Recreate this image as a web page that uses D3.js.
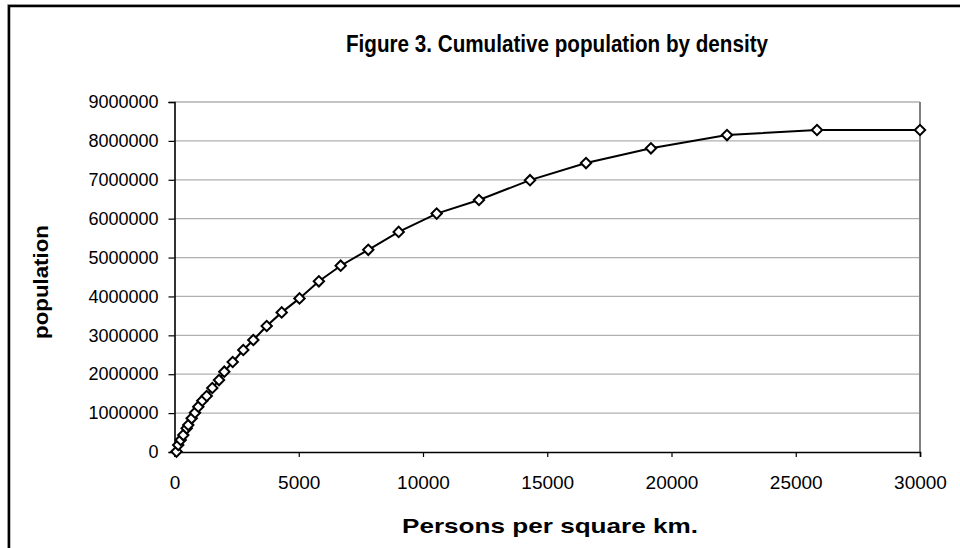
<!DOCTYPE html>
<html>
<head>
<meta charset="utf-8">
<script src="https://cdn.jsdelivr.net/npm/d3@7"></script>
<style>
  body { margin: 0; background: #fff; }
  text { font-family: Arial, "Liberation Sans", sans-serif; }
</style>
</head>
<body>
<div id="chart-area"></div>
<script>
// persons per square km (upper bound of each density class)
var density = [80, 150, 250, 355, 490, 555, 692, 825, 958, 1119, 1296, 1521, 1791, 2004, 2342,
               2768, 3171, 3710, 4314, 5030, 5810, 6687, 7798, 9021, 10550, 12252, 14306,
               16560, 19173, 22233, 25855, 30000];
// cumulative population
var population = [10000, 180000, 310000, 435000, 610000, 694000, 866000, 1010000, 1165000,
                  1320000, 1440000, 1646000, 1850000, 2065000, 2314000, 2623000, 2880000,
                  3240000, 3590000, 3950000, 4390000, 4790000, 5200000, 5660000, 6130000,
                  6480000, 6990000, 7430000, 7810000, 8150000, 8280000, 8280000];
var xTicks = [0, 5000, 10000, 15000, 20000, 25000, 30000];
var yTicks = [0, 1000000, 2000000, 3000000, 4000000, 5000000, 6000000, 7000000, 8000000, 9000000];

var W = 960, H = 548;
var plot = {left: 174.5, right: 920, top: 102, bottom: 452};

var svg = d3.select("#chart-area").append("svg")
    .attr("width", W)
    .attr("height", H);

// chart frame (cropped on the right and bottom)
svg.append("rect")
    .attr("x", 7.5).attr("y", 4.5)
    .attr("width", 1200).attr("height", 700)
    .attr("fill", "none").attr("stroke", "#c8c8c8").attr("stroke-width", 1);
svg.append("rect")
    .attr("x", 9).attr("y", 6)
    .attr("width", 1200).attr("height", 700)
    .attr("fill", "none").attr("stroke", "#000").attr("stroke-width", 2.5);

var x = d3.scaleLinear().domain([0, 30000]).range([plot.left, plot.right]);
var y = d3.scaleLinear().domain([0, 9000000]).range([plot.bottom, plot.top]);

// gridlines
svg.selectAll("line.grid").data(yTicks.slice(1)).enter()
    .append("line")
        .attr("class", "grid")
        .attr("x1", plot.left).attr("x2", plot.right)
        .attr("y1", function(d){ return y(d); })
        .attr("y2", function(d){ return y(d); })
        .attr("stroke", "#b0b0b0")
        .attr("stroke-width", 1.3);

// right edge of plot area
svg.append("line")
    .attr("x1", plot.right).attr("x2", plot.right)
    .attr("y1", plot.top).attr("y2", plot.bottom)
    .attr("stroke", "#808080").attr("stroke-width", 2);

// y axis
var yAxis = svg.append("g")
    .attr("transform", "translate(" + plot.left + ",0)")
    .call(d3.axisLeft(y).tickValues(yTicks).tickSize(6).tickPadding(10)
        .tickFormat(d3.format("d")));
yAxis.select(".domain").attr("stroke", "#000").attr("stroke-width", 1.6);
yAxis.selectAll(".tick line").attr("stroke", "#000").attr("stroke-width", 1.2);
yAxis.selectAll(".tick text")
    .attr("font-size", 18)
    .attr("fill", "#000")
    .attr("font-family", "Arial, 'Liberation Sans', sans-serif");

// x axis
var xAxis = svg.append("g")
    .attr("transform", "translate(0," + plot.bottom + ")")
    .call(d3.axisBottom(x).tickValues(xTicks).tickSize(5).tickPadding(19)
        .tickFormat(d3.format("d")));
xAxis.select(".domain").attr("stroke", "#000").attr("stroke-width", 1.6);
xAxis.selectAll(".tick line").attr("stroke", "#000").attr("stroke-width", 1.2);
xAxis.selectAll(".tick text")
    .attr("font-size", 19)
    .attr("fill", "#000")
    .attr("font-family", "Arial, 'Liberation Sans', sans-serif");

// series line
var pts = density.map(function(d, i){ return [d, population[i]]; });
var line = d3.line()
    .x(function(d){ return x(d[0]); })
    .y(function(d){ return y(d[1]); });
svg.append("path")
    .datum(pts)
    .attr("d", line)
    .attr("fill", "none")
    .attr("stroke", "#000")
    .attr("stroke-width", 2);

// diamond markers
var diamond = d3.symbol().type(d3.symbolSquare).size(54);
svg.selectAll("path.marker").data(pts).enter()
    .append("path")
        .attr("class", "marker")
        .attr("d", diamond)
        .attr("transform", function(d){
            return "translate(" + x(d[0]) + "," + y(d[1]) + ") rotate(45)";
        })
        .attr("fill", "#fff")
        .attr("stroke", "#000")
        .attr("stroke-width", 2);

// titles
svg.append("text")
    .attr("x", 346).attr("y", 52)
    .attr("font-size", 23).attr("font-weight", "bold")
    .attr("textLength", 422).attr("lengthAdjust", "spacingAndGlyphs")
    .text("Figure 3.  Cumulative population by density");

svg.append("text")
    .attr("x", 402).attr("y", 533)
    .attr("font-size", 21).attr("font-weight", "bold")
    .attr("textLength", 296).attr("lengthAdjust", "spacingAndGlyphs")
    .text("Persons per square km.");

svg.append("text")
    .attr("transform", "translate(48," + 339 + ") rotate(-90)")
    .attr("font-size", 20).attr("font-weight", "bold")
    .attr("textLength", 114).attr("lengthAdjust", "spacingAndGlyphs")
    .text("population");
</script>
</body>
</html>
